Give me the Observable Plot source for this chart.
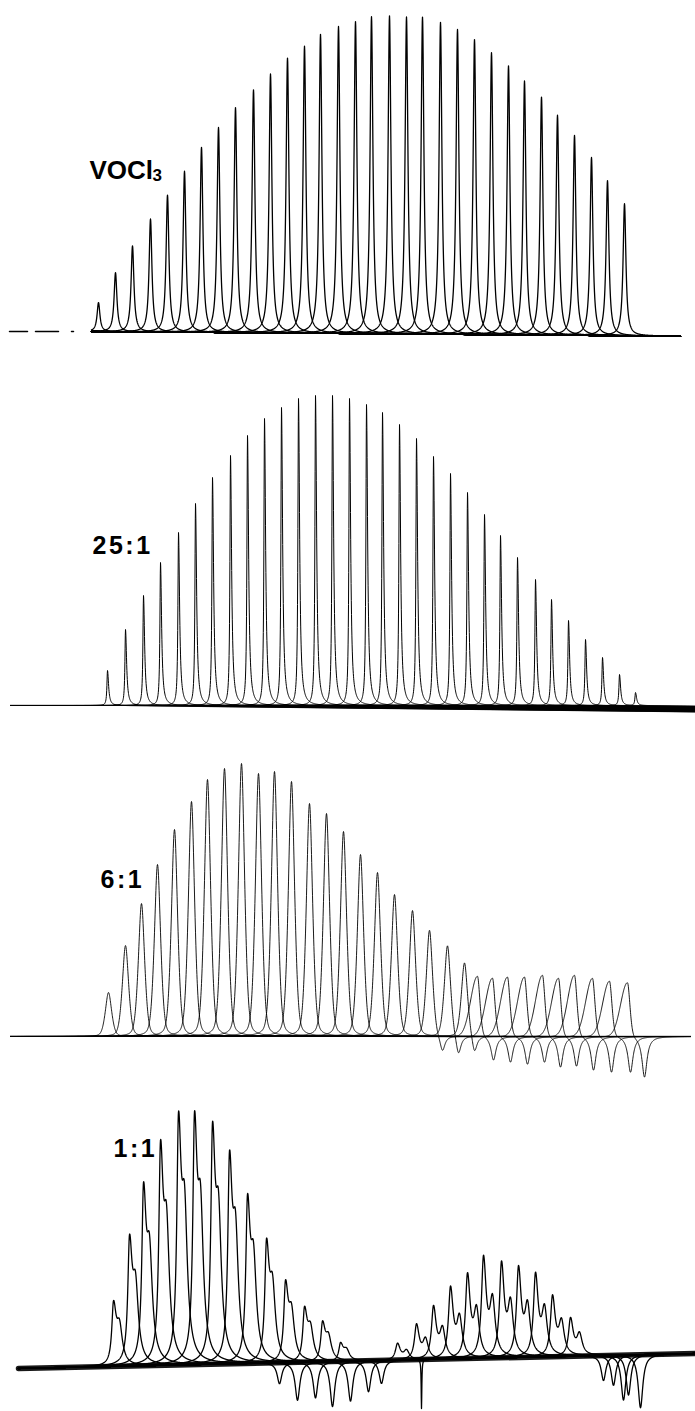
<!DOCTYPE html>
<html><head><meta charset="utf-8">
<script src="https://cdn.jsdelivr.net/npm/d3@7"></script>
<script src="https://cdn.jsdelivr.net/npm/@observablehq/plot@0.6"></script>
<style>html,body{margin:0;padding:0;background:#fff}#chart svg{display:block}</style>
</head><body><div id="chart"></div>
<script>
// ---------- DATA (peak positions along the frequency axis, peak heights above baseline) ----------
// Panel 1: VOCl3
const p1X = [98,115,132,150,167,184,201,218,235,253,270,287,304,320,338,355,371,389,406,422,440,457,474,491,508,524,541,557,574,591,607,624];
const p1H = [29,59,86,113,137,161,185,205,225,243,259,275,287,299,307,312,317,318,317,317,312,305,295,282,269,254,238,220,200,178,155,132];
// Panel 2: 25:1
const p2X = [107,125,143,160,178,195,212,230,247,264,281,298,315,332,349,366,382,399,416,433,450,467,484,500,517,535,551,568,585,602,619,635];
const p2H = [35,76,110,143,173,202,228,250,270,287,298,307,310,310,307,301,293,281,267,249,232,213,191,170,148,126,106,85,66,48,31,13];
// Panel 3: 6:1 (first 22 lines, then 10 broad saw-tooth lines; negative lobes for the last 13)
const p3X = [108,125,141,157,174,191,207,224,241,258,274,291,309,326,343,360,377,394,412,429,447,464,477,492,507,524,542,558,574,592,609,627];
const p3H = [44,91,133,172,207,235,257,268,273,263,265,255,233,223,205,182,164,142,126,107,92,75,61,59,60,60,62,59,62,59,56,55];
const p3Broad = 22; // index where broad lines begin
const p3DipX = [null,null,null,null,null,null,null,null,null,null,null,null,null,null,null,null,null,null,null,442,458,474,493,510,527,544,560,576,593,611,630,644];
const p3DipD = [0,0,0,0,0,0,0,0,0,0,0,0,0,0,0,0,0,0,0,16,19,17,24,26,28,26,31,30,34,36,36,41];
// Panel 4: 1:1
const p4AX = [113,129,143,160,178,194,212,229,247,266,285,304,322,340];
const p4AH = [66,132,184,226,254,254,243,214,170,125,83,56,41,19];
const p4BX = [397,416,433,450,467,483,501,518,535,552,570];
const p4BH = [17,36,54,73,86,103,97,92,85,62,39];
const p4DipX = [279,297,315,332,350,368,381,603,613,623,628,640];
const p4DipD = [21,38,36,45,40,31,23,25,30,45,40,53];
const p4SpikeX = [421];
const p4SpikeD = [49];
// Labels
const labels = ["VOCl", "25:1", "6:1", "1:1"];

// ---------- line shapes ----------
const lor = (d, w) => 1 / (1 + (d / w) ** 2);
const gau = (d, w) => Math.exp(-Math.LN2 * (d / w) ** 2);
function norm(f) { let m = 0; for (let d = -20; d <= 30; d += 0.05) m = Math.max(m, f(d)); return d => f(d) / m; }
const shape1 = d => lor(d, 1.7);
const shape2 = d => lor(d, d < 0 ? 0.7 : 1.3);
const shape3a = d => 0.6 * gau(d, 4) + 0.4 * lor(d, 3);
const shape3b = d => d < 0 ? gau(d, 8) : 0.7 * gau(d, 3) + 0.3 * lor(d, 2.5);
const dip3 = d => lor(d, 3);
const shape4a = norm(d => lor(d, d < 0 ? 2 : 3.2) + 0.6 * lor(d - 6, 3.4));
const shape4b = norm(d => lor(d, d < 0 ? 2.4 : 3.2) + 0.55 * lor(d - 9, 3.2));
const dip4 = d => lor(d, 2.8);
const spike4 = d => lor(d, 0.4);

function sampleXs(xa, xb, centers) {
  const s = new Set();
  for (let x = xa; x <= xb; x += 1) s.add(x);
  s.add(xb);
  for (const c of centers) for (let x = c - 30; x <= c + 40; x += 0.2) {
    const r = Math.round(x * 10) / 10; if (r >= xa && r <= xb) s.add(r);
  }
  return [...s].sort((a, b) => a - b);
}
function trace(id, xa, xb, comps, tilt) {
  const xs = sampleXs(xa, xb, comps.map(k => k.c));
  return xs.map(x => ({trace: id, x, y: comps.reduce((s, k) => s + k.a * k.f(x - k.c), 0) - tilt(x)}));
}

// ---------- build traces ----------
const rows1 = p1X.flatMap((c, i) => trace(i, 91, 680, [{c, a: p1H[i], f: shape1}], x => 0.008 * (x - 91)));
const rows2 = p2X.flatMap((c, i) => trace(i, 10, 695, [{c, a: p2H[i], f: shape2}], x => 0.011 * Math.max(0, x - c)));
const rows3 = p3X.flatMap((c, i) => {
  const comps = [{c, a: p3H[i], f: i < p3Broad ? shape3a : shape3b}];
  if (p3DipX[i] != null) comps.push({c: p3DipX[i], a: -p3DipD[i], f: dip3});
  return trace(i, 10, 690, comps, x => 0);
});
const tilt4 = x => -15 * (x - 18) / 677;
const rows4 = [
  ...p4AX.flatMap((c, i) => trace("a" + i, 18, 695, [{c, a: p4AH[i], f: shape4a}], tilt4)),
  ...p4BX.flatMap((c, i) => trace("b" + i, 18, 695, [{c, a: p4BH[i], f: shape4b}], tilt4)),
  ...p4DipX.flatMap((c, i) => trace("d" + i, 18, 695, [{c, a: -p4DipD[i], f: dip4}], tilt4)),
  ...p4SpikeX.flatMap((c, i) => trace("s" + i, 18, 695, [{c, a: -p4SpikeD[i], f: spike4}], tilt4))
];
const band4 = [18, 695].map(x => ({x, y: -tilt4(x)}));
const dash1 = [9, 73].map(x => ({x, y: 0}));

// ---------- panels ----------
const font = "Liberation Sans, Arial, Helvetica, sans-serif";
function panel(H, zero, T, rows, sw, extra) {
  return Plot.plot({
    width: 695, height: H, margin: 0,
    x: {domain: [0, 695], axis: null},
    y: {domain: [zero - T - H, zero - T], axis: null},
    marks: [
      ...(extra.before || []),
      Plot.line(rows, {x: "x", y: "y", z: "trace", stroke: "black", strokeWidth: sw, strokeLinejoin: "round"}),
      ...(extra.after || [])
    ]
  });
}
const lab = (t, x, y, size) => Plot.text([t], {x: () => x, y: () => y, text: d => d, textAnchor: "start", lineAnchor: "bottom",
  fontSize: size, fontWeight: "bold", fontFamily: font, fill: "black"});

const el = document.getElementById("chart");
el.append(panel(360, 331, 0, rows1, 1.3, {
  before: [Plot.line(dash1, {x: "x", y: "y", stroke: "black", strokeWidth: 1.5, strokeDasharray: "18,8,23,13,3"})],
  after: [lab(labels[0], 89, 152.5, 26), lab("3", 152, 150.5, 17)]
}));
el.append(panel(380, 705, 360, rows2, 1.0, {after: [lab(labels[1], 92, 152, 25)]}));
el.append(panel(355, 1036, 740, rows3, 0.9, {after: [lab(labels[2], 100, 149, 25)]}));
el.append(panel(316, 1368, 1095, rows4, 1.3, {
  before: [Plot.line(band4, {x: "x", y: "y", stroke: "black", strokeWidth: 5.5, strokeOpacity: 0.9})],
  after: [lab(labels[3], 113, 212, 25)]
}));
d3.select(el).selectAll("text").filter(function() { return /:/.test(this.textContent); }).attr("letter-spacing", "2.5px");
</script>
</body></html>
